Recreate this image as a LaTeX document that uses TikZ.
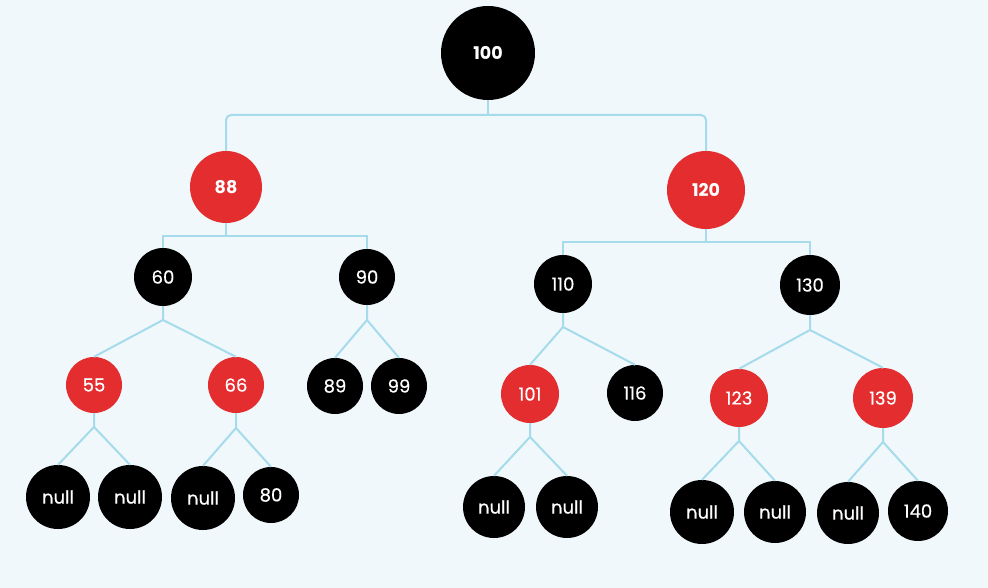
\documentclass[tikz,border=0pt]{standalone}
\usepackage{fontspec}
\setmainfont{Poppins}
\newfontfamily\medfont{Poppins}[FakeBold=0.5]
\definecolor{bgc}{HTML}{F0F8FB}
\definecolor{linec}{HTML}{A6DBEC}
\definecolor{redc}{HTML}{E32D2F}
\begin{document}
\begin{tikzpicture}[x=1pt,y=-1pt,
  nd/.style={circle,inner sep=0pt,text=white,font=\fontsize{18}{21}\selectfont\medfont},
  rn/.style={nd,fill=redc},
  bn/.style={nd,fill=black},
  bigt/.style={font=\fontsize{17.5}{20}\selectfont\rmfamily\bfseries},
  conn/.style={draw=linec,line width=2pt}]
\fill[bgc] (0,0) rectangle (988,588);
\useasboundingbox (0,0) rectangle (988,588);
% nodes
\node[bn,bigt,minimum size=94pt] (n100) at (488,53) {100};
\node[rn,bigt,minimum size=72pt] (n88) at (226,187) {88};
\node[rn,bigt,minimum size=78pt] (n120) at (706,190) {120};
\node[bn,minimum size=58pt] (n60) at (163,277) {60};
\node[bn,minimum size=56pt] (n90) at (367,277) {90};
\node[bn,minimum size=58pt] (n110) at (563,284) {110};
\node[bn,minimum size=60pt] (n130) at (810,285) {130};
\node[rn,minimum size=56pt] (n55) at (94,385) {55};
\node[rn,minimum size=56pt] (n66) at (236,385) {66};
\node[bn,minimum size=56pt] (n89) at (335,386) {89};
\node[bn,minimum size=56pt] (n99) at (399,386) {99};
\node[rn,minimum size=58pt] (n101) at (530,394) {101};
\node[bn,minimum size=56pt] (n116) at (635,393) {116};
\node[rn,minimum size=58pt] (n123) at (739,398) {123};
\node[rn,minimum size=60pt] (n139) at (883,398) {139};
\node[bn,minimum size=64pt] (nl1) at (58,497) {null};
\node[bn,minimum size=64pt] (nl2) at (130,497) {null};
\node[bn,minimum size=64pt] (nl3) at (203,498) {null};
\node[bn,minimum size=56pt] (n80) at (271,495) {80};
\node[bn,minimum size=62pt] (nl4) at (494,507) {null};
\node[bn,minimum size=62pt] (nl5) at (567,507) {null};
\node[bn,minimum size=64pt] (nl6) at (702,512) {null};
\node[bn,minimum size=62pt] (nl7) at (775,512) {null};
\node[bn,minimum size=62pt] (nl8) at (848,513) {null};
\node[bn,minimum size=60pt] (n140) at (918,511) {140};
% branch points
\coordinate (b1) at (488,115);
\coordinate (b2) at (226,236);
\coordinate (b2r) at (706,242);
\coordinate (b3) at (163,320);
\coordinate (b4) at (367,320);
\coordinate (b5) at (563,327);
\coordinate (b6) at (810,330);
\coordinate (b7) at (94,427);
\coordinate (b8) at (236,428);
\coordinate (b9) at (530,437);
\coordinate (b10) at (739,441);
\coordinate (b11) at (883,442);
% connectors
\draw[conn] (n100.south) -- (b1);
\draw[conn,rounded corners=5pt] (n88.north) |- (b1) -| (n120.north);
\draw[conn] (n88.south) -- (b2);
\draw[conn] (n60.north) |- (b2) -| (n90.north);
\draw[conn] (n120.south) -- (b2r);
\draw[conn] (n110.north) |- (b2r) -| (n130.north);
\draw[conn] (n60.south) -- (b3) -- (n55.north);
\draw[conn] (b3) -- (n66.north);
\draw[conn] (n90.south) -- (b4) -- (n89.north);
\draw[conn] (b4) -- (n99.north);
\draw[conn] (n110.south) -- (b5) -- (n101.north);
\draw[conn] (b5) -- (n116.north);
\draw[conn] (n130.south) -- (b6) -- (n123.north);
\draw[conn] (b6) -- (n139.north);
\draw[conn] (n55.south) -- (b7) -- (nl1.north);
\draw[conn] (b7) -- (nl2.north);
\draw[conn] (n66.south) -- (b8) -- (nl3.north);
\draw[conn] (b8) -- (n80.north);
\draw[conn] (n101.south) -- (b9) -- (nl4.north);
\draw[conn] (b9) -- (nl5.north);
\draw[conn] (n123.south) -- (b10) -- (nl6.north);
\draw[conn] (b10) -- (nl7.north);
\draw[conn] (n139.south) -- (b11) -- (nl8.north);
\draw[conn] (b11) -- (n140.north);
\end{tikzpicture}
\end{document}
